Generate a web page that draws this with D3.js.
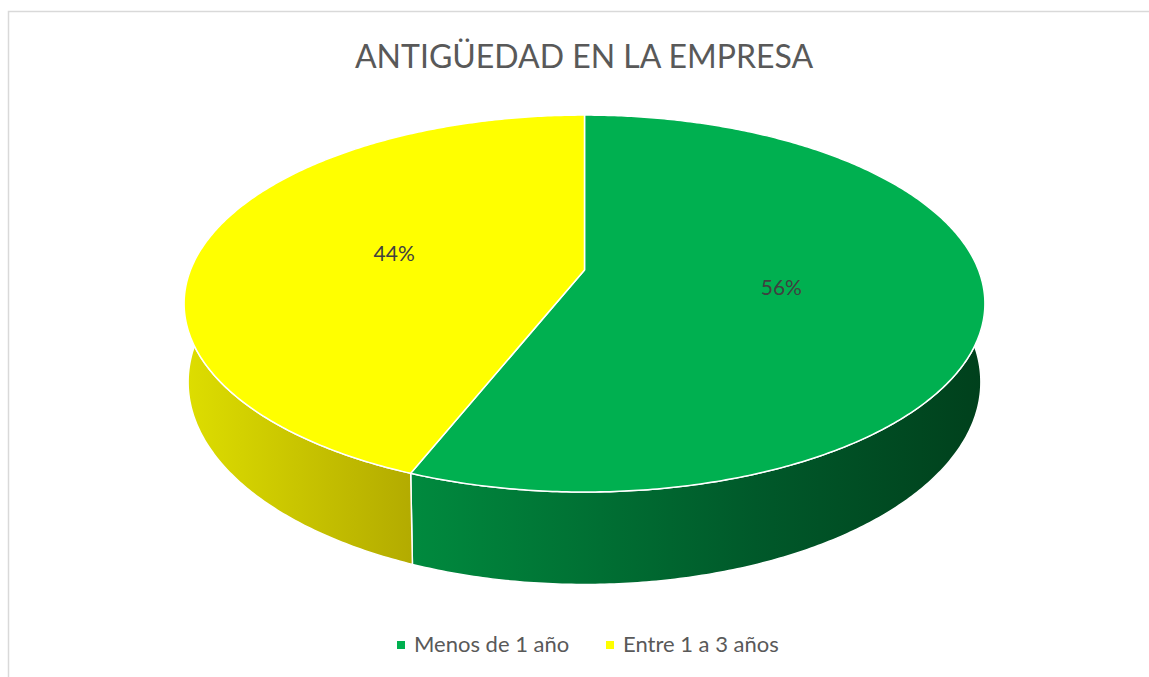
<!DOCTYPE html>
<html>
<head>
<meta charset="utf-8">
<script src="https://cdn.jsdelivr.net/npm/d3@7"></script>
<style>
  body { margin: 0; background: #fff; }
  svg { display: block; font-family: Lato, "Open Sans", sans-serif; }
</style>
</head>
<body>
<script>
// datos del grafico
var categories = ["Menos de 1 año", "Entre 1 a 3 años"];
var values = [56, 44];
var labels = ["56%", "44%"];
var title = "ANTIGÜEDAD EN LA EMPRESA";

var topColors = ["#00b050", "#ffff00"];
var sideStops = [
  [["0", "#008a3e"], ["0.6", "#00592a"], ["1", "#00401c"]],
  [["0", "#dede00"], ["1", "#b3ab00"]]
];

var width = 1149, height = 677;

// proyeccion en perspectiva del disco (u derecha, v hacia el observador)
var cx = 584.5, cy = 270, A = 394, B = 182.5, k = 0.178, depth = 76, shrink = 0.99;

function proj(a, r, bottom) {
  var u = Math.sin(a) * r, v = -Math.cos(a) * r;
  var w = 1 - k * v;
  var s = bottom ? shrink : 1;
  return [cx + A * u * s / w, cy + (B * v + (bottom ? depth : 0)) / w];
}

var pie = d3.pie().sort(null).startAngle(0).endAngle(2 * Math.PI);
var arcs = pie(values);

var svg = d3.select("body").append("svg")
  .attr("width", width)
  .attr("height", height);

// marco del grafico
svg.append("rect")
  .attr("x", 8.5).attr("y", 11.5)
  .attr("width", 1200).attr("height", 800)
  .attr("fill", "none")
  .attr("stroke", "#d9d9d9")
  .attr("stroke-width", 1.5);

var defs = svg.append("defs");
var line = d3.line();

function samples(a0, a1) {
  var n = Math.max(2, Math.ceil(Math.abs(a1 - a0) / 0.01));
  return d3.range(n + 1).map(function(i) { return a0 + (a1 - a0) * i / n; });
}

// paredes laterales (solo la parte delantera)
arcs.forEach(function(d, i) {
  var a0 = Math.max(d.startAngle, Math.PI / 2),
      a1 = Math.min(d.endAngle, 3 * Math.PI / 2);
  if (a1 <= a0) return;
  var topPts = samples(a0, a1).map(function(a) { return proj(a, 1, false); });
  var botPts = samples(a1, a0).map(function(a) { return proj(a, 1, true); });
  var xs = topPts.concat(botPts).map(function(p) { return p[0]; });

  var grad = defs.append("linearGradient")
    .attr("id", "side" + i)
    .attr("gradientUnits", "userSpaceOnUse")
    .attr("x1", d3.min(xs)).attr("x2", d3.max(xs))
    .attr("y1", 0).attr("y2", 0);
  grad.selectAll("stop").data(sideStops[i]).enter().append("stop")
    .attr("offset", function(s) { return s[0]; })
    .attr("stop-color", function(s) { return s[1]; });

  svg.append("path")
    .attr("d", line(topPts.concat(botPts)) + "Z")
    .attr("fill", "url(#side" + i + ")")
    .attr("stroke", "#fff")
    .attr("stroke-width", 1.5)
    .attr("stroke-linejoin", "round");
});

// caras superiores
svg.selectAll(".slice")
  .data(arcs)
  .enter().append("path")
  .attr("class", "slice")
  .attr("d", function(d) {
    var pts = [proj(0, 0, false)].concat(samples(d.startAngle, d.endAngle).map(function(a) { return proj(a, 1, false); }));
    return line(pts) + "Z";
  })
  .attr("fill", function(d, i) { return topColors[i]; })
  .attr("stroke", "#fff")
  .attr("stroke-width", 1.5)
  .attr("stroke-linejoin", "round");

// etiquetas de porcentaje
svg.selectAll(".label")
  .data(arcs)
  .enter().append("text")
  .attr("class", "label")
  .attr("transform", function(d) {
    var p = proj((d.startAngle + d.endAngle) / 2, 0.5, false);
    return "translate(" + p[0] + "," + p[1] + ")";
  })
  .attr("text-anchor", "middle")
  .attr("dy", "0.36em")
  .attr("fill", "#404040")
  .attr("font-size", 21)
  .text(function(d, i) { return labels[i]; });

// titulo
svg.append("text")
  .attr("x", 584)
  .attr("y", 68)
  .attr("text-anchor", "middle")
  .attr("fill", "#595959")
  .attr("font-size", 32)
  .text(title);

// leyenda
var legendX = [397, 606];
var legend = svg.selectAll(".legend")
  .data(categories)
  .enter().append("g")
  .attr("class", "legend")
  .attr("transform", function(d, i) { return "translate(" + legendX[i] + ",645)"; });

legend.append("rect")
  .attr("x", 0).attr("y", -4)
  .attr("width", 8).attr("height", 8)
  .attr("fill", function(d, i) { return topColors[i]; });

legend.append("text")
  .attr("x", 17)
  .attr("y", 7)
  .attr("fill", "#595959")
  .attr("font-size", 22)
  .text(function(d) { return d; });
</script>
</body>
</html>
